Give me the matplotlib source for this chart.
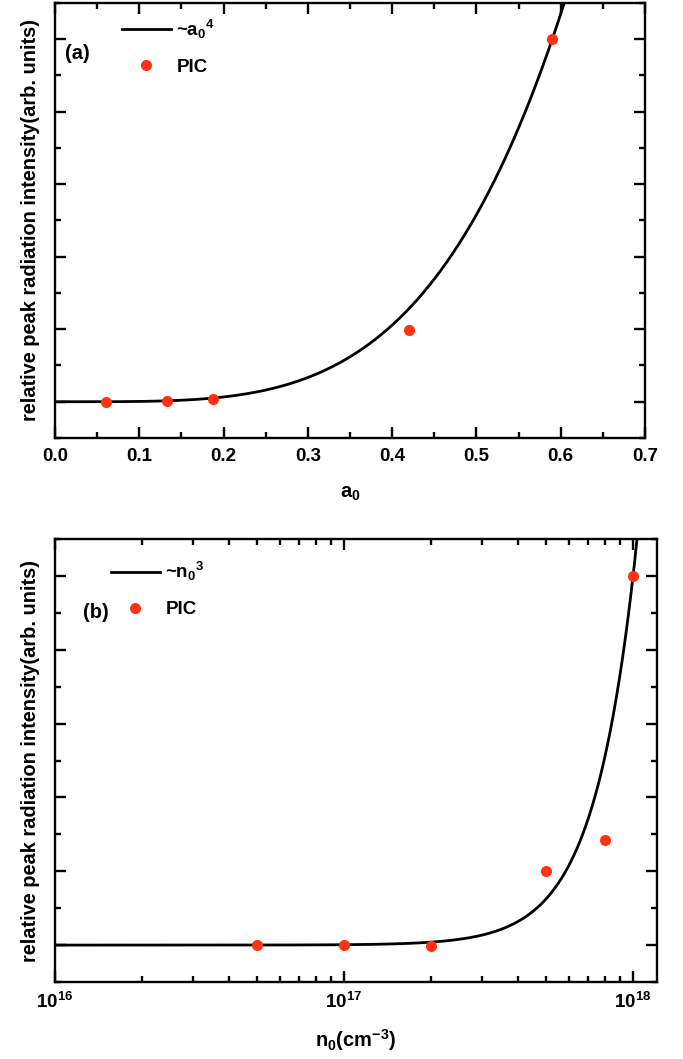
import numpy as np
import matplotlib
matplotlib.use("Agg")
import matplotlib.pyplot as plt
from matplotlib.ticker import MultipleLocator, NullFormatter, LogLocator

plt.rcParams['font.family'] = 'Liberation Sans'
plt.rcParams['font.weight'] = 'bold'
plt.rcParams['mathtext.fontset'] = 'custom'
plt.rcParams['mathtext.rm'] = 'Liberation Sans:bold'
plt.rcParams['mathtext.it'] = 'Liberation Sans:bold'
plt.rcParams['mathtext.bf'] = 'Liberation Sans:bold'

# panel (a): PIC peak intensity vs a0
a0_pic = [0.06, 0.133, 0.187, 0.42, 0.59]
int_a_pic = [0.0, 0.01, 0.04, 0.99, 5.0]
a_fit_coef = 41.26  # ~a0^4

# panel (b): PIC peak intensity vs density
n0_pic = [5e16, 1e17, 2e17, 5e17, 8e17, 1e18]
int_b_pic = [0.0, 0.0, -0.01, 1.0, 1.42, 5.0]
n_fit_coef = 5.0  # ~(n0/1e18)^3

red = '#ff3311'
ylabel = 'relative peak radiation intensity(arb. units)'

fig = plt.figure(figsize=(6.83, 10.59), dpi=100)
ax1 = fig.add_axes([0.0805, 0.5864, 0.8638, 0.4108])
ax2 = fig.add_axes([0.0805, 0.0727, 0.8814, 0.4183])


def style(ax):
    for s in ax.spines.values():
        s.set_linewidth(1.7)
    ax.tick_params(which='both', direction='in', top=True, right=True, width=1.7,
                   labelsize=13.5, pad=7)
    ax.tick_params(which='major', length=8)
    ax.tick_params(which='minor', length=4.5)
    ax.set_ylim(-0.5, 5.5)
    ax.yaxis.set_major_locator(MultipleLocator(1))
    ax.yaxis.set_minor_locator(MultipleLocator(0.5))
    ax.yaxis.set_major_formatter(NullFormatter())
    ax.set_ylabel(ylabel, fontsize=14.4, fontweight='bold', labelpad=4)


# (a)
xa = np.linspace(0, 0.7, 400)
ax1.plot(xa, a_fit_coef * xa ** 4, color='black', lw=2.0, label=r'~a$_0$$^4$')
ax1.plot(a0_pic, int_a_pic, 'o', color=red, ms=8, mec='none', label='PIC')
ax1.set_xlim(0, 0.7)
ax1.xaxis.set_major_locator(MultipleLocator(0.1))
ax1.xaxis.set_minor_locator(MultipleLocator(0.05))
style(ax1)
ax1.set_xlabel(r'a$_0$', fontsize=14.5, fontweight='bold', labelpad=14)
ax1.text(0.017, 0.872, '(a)', transform=ax1.transAxes, fontsize=14.5, fontweight='bold')
ax1.legend(loc='upper left', bbox_to_anchor=(0.085, 1.005), frameon=False, fontsize=13.5,
           handlelength=2.6, labelspacing=0.95, handletextpad=0.3, numpoints=1)

# (b)
xb = np.logspace(16, np.log10(1.21e18), 400)
ax2.plot(xb, n_fit_coef * (xb / 1e18) ** 3, color='black', lw=2.0, label=r'~n$_0$$^3$')
ax2.plot(n0_pic, int_b_pic, 'o', color=red, ms=8, mec='none', label='PIC')
ax2.set_xscale('log')
ax2.set_xlim(1e16, 1.21e18)
ax2.xaxis.set_major_locator(LogLocator(base=10))
ax2.xaxis.set_minor_locator(LogLocator(base=10, subs=np.arange(2, 10)))
ax2.xaxis.set_minor_formatter(NullFormatter())
style(ax2)
ax2.set_xlabel(r'n$_0$(cm$^{-3}$)', fontsize=14.5, fontweight='bold', labelpad=11)
ax2.text(0.047, 0.822, '(b)', transform=ax2.transAxes, fontsize=14.5, fontweight='bold')
ax2.legend(loc='upper left', bbox_to_anchor=(0.065, 0.99), frameon=False, fontsize=13.5,
           handlelength=2.6, labelspacing=0.95, handletextpad=0.3, numpoints=1)

fig.savefig('out.png', dpi=100)
